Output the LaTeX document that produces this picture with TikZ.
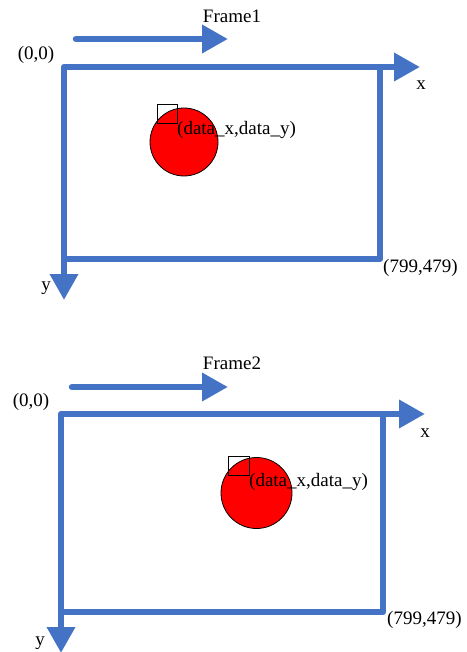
\documentclass[tikz,border=0pt]{standalone}
\usepackage{fontspec}
\setmainfont{Liberation Serif}
\usetikzlibrary{arrows.meta}
\definecolor{axisblue}{HTML}{4472C4}
\tikzset{
  axisline/.style={draw=axisblue, line width=6.5pt, line join=round},
  axisarrow/.style={axisline, -{Triangle[width=27pt,length=26pt]}},
  bothaxes/.style={axisline, {Triangle[width=27pt,length=26pt]}-{Triangle[width=27pt,length=26pt]}},
  movearrow/.style={axisline, line cap=round, -{Triangle[width=27pt,length=26pt]}},
  lbl/.style={inner sep=0pt, font=\fontsize{19}{22}\selectfont, text=black},
  ball/.style={draw=black, line width=0.8pt, fill=red},
  marker/.style={draw=black, line width=1pt}
}
\begin{document}
\begin{tikzpicture}[x=1pt,y=-1pt]
\useasboundingbox (0,0) rectangle (466,652);

% ---------- Frame 1 ----------
\coordinate (m1s) at (76,39);
\coordinate (m1e) at (228,39);
\draw[movearrow] (m1s) -- (m1e);
\node[lbl] (fr1) at (232,16) {Frame1};
\node[lbl] (o1lbl) at (36,55) {(0,0)};

\coordinate (o1) at (64,67);
\coordinate (x1) at (420,67);
\coordinate (y1) at (64,300);
\coordinate (tr1) at (380,67);
\coordinate (br1) at (380,259);
\coordinate (bl1) at (64,259);
\draw[axisline] (tr1) -- (br1) -- (bl1);
\draw[bothaxes] (y1) -- (o1) -- (x1);
\node[lbl] (x1lbl) at (421,85) {x};
\node[lbl] (y1lbl) at (46,288) {y};
\node[lbl, anchor=west] (e1lbl) at (383,268) {(799,479)};

\node[ball, circle, minimum size=68pt, inner sep=0pt] (c1) at (184,142) {};
\node[marker, rectangle, minimum width=20pt, minimum height=19pt, inner sep=0pt] (s1) at (167,114.5) {};
\node[lbl, anchor=west] (d1) at (177,130) {(data\_x,data\_y)};

% ---------- Frame 2 ----------
\coordinate (m2s) at (72,387);
\coordinate (m2e) at (228,387);
\draw[movearrow] (m2s) -- (m2e);
\node[lbl] (fr2) at (232,363) {Frame2};
\node[lbl] (o2lbl) at (31,402) {(0,0)};

\coordinate (o2) at (61,414);
\coordinate (x2) at (425,414);
\coordinate (y2) at (61,653);
\coordinate (tr2) at (383,414);
\coordinate (br2) at (383,612);
\coordinate (bl2) at (61,612);
\draw[axisline] (tr2) -- (br2) -- (bl2);
\draw[bothaxes] (y2) -- (o2) -- (x2);
\node[lbl] (x2lbl) at (425,433) {x};
\node[lbl] (y2lbl) at (40,643) {y};
\node[lbl, anchor=west] (e2lbl) at (387,620) {(799,479)};

\node[ball, circle, minimum size=71pt, inner sep=0pt] (c2) at (256.5,493) {};
\node[marker, rectangle, minimum width=21pt, minimum height=19pt, inner sep=0pt] (s2) at (238.5,465.5) {};
\node[lbl, anchor=west] (d2) at (249,482) {(data\_x,data\_y)};
\end{tikzpicture}
\end{document}
